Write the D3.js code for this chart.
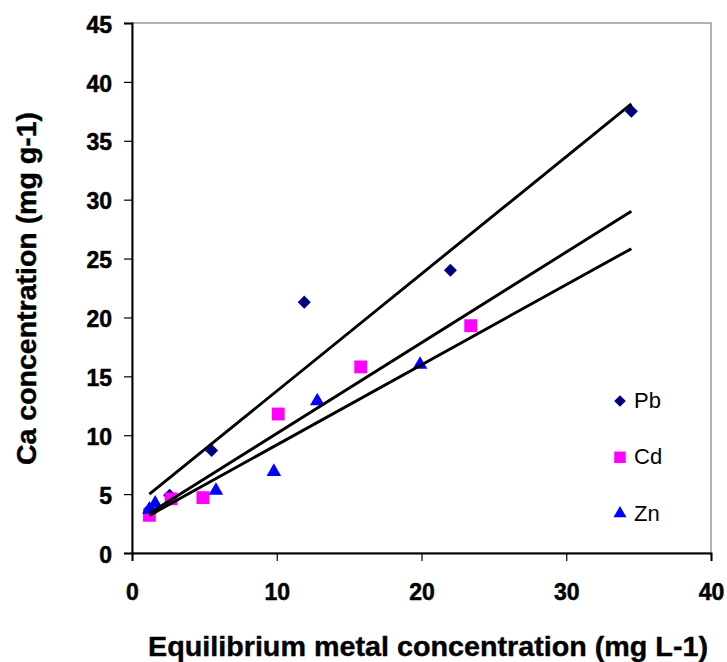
<!DOCTYPE html>
<html lang="en">
<head>
<meta charset="UTF-8">
<script src="https://d3js.org/d3.v7.min.js"></script>
<title>Ca release vs equilibrium metal concentration</title>
<style>
  body { margin: 0; background: #fff; }
  text { font-family: "Liberation Sans", Arial, sans-serif; }
</style>
</head>
<body>
<div id="chart"></div>
<script>
// data
const pbX = [1.2, 2.6, 5.5, 11.9, 22.0, 34.5];
const pbY = [3.7, 4.9, 8.7, 21.3, 24.0, 37.5];
const cdX = [1.2, 2.7, 4.9, 10.1, 15.8, 23.4];
const cdY = [3.2, 4.6, 4.7, 11.8, 15.8, 19.3];
const znX = [1.2, 1.6, 5.8, 9.8, 12.8, 19.9];
const znY = [3.7, 4.2, 5.3, 6.9, 12.9, 16.0];
const seriesNames = ["Pb", "Cd", "Zn"];
const trendRange = [1.2, 34.5];
const xTicks = [0, 10, 20, 30, 40];
const yTicks = [0, 5, 10, 15, 20, 25, 30, 35, 40, 45];

const width = 727, height = 662;
const margin = {left: 132, right: 16, top: 23, bottom: 109};

const svg = d3.select("#chart").append("svg")
    .attr("width", width).attr("height", height);

const x = d3.scaleLinear().domain([0, 40]).range([margin.left, width - margin.right]);
const y = d3.scaleLinear().domain([0, 45]).range([height - margin.bottom, margin.top]);

// plot area frame
svg.append("rect")
    .attr("x", x(0)).attr("y", y(45))
    .attr("width", x(40) - x(0)).attr("height", y(0) - y(45))
    .attr("fill", "none").attr("stroke", "#666").attr("stroke-width", 1);

// axes
const xAxis = svg.append("g")
    .attr("transform", "translate(0," + y(0) + ")")
    .call(d3.axisBottom(x).tickValues(xTicks).tickSize(8).tickPadding(23));
const yAxis = svg.append("g")
    .attr("transform", "translate(" + x(0) + ",0)")
    .call(d3.axisLeft(y).tickValues(yTicks).tickSize(8).tickPadding(12));

[xAxis, yAxis].forEach(function (g) {
    g.select(".domain").attr("stroke", "#000").attr("stroke-width", 2);
    g.selectAll(".tick line").attr("stroke", "#000").attr("stroke-width", 1.2);
    g.selectAll(".tick text")
        .attr("font-family", "Liberation Sans, Arial, sans-serif")
        .attr("font-size", 23).attr("font-weight", "bold").attr("fill", "#000")
        .attr("stroke", "#000").attr("stroke-width", 0.5);
});
yAxis.selectAll(".tick text").attr("dy", "0.4em");

// axis titles
svg.append("text")
    .attr("x", 148).attr("y", 656)
    .attr("textLength", 560).attr("lengthAdjust", "spacingAndGlyphs")
    .attr("font-size", 28).attr("font-weight", "bold")
    .attr("stroke", "#000").attr("stroke-width", 0.4)
    .text("Equilibrium metal concentration (mg L-1)");

svg.append("text")
    .attr("transform", "translate(36,465) rotate(-90)")
    .attr("textLength", 353).attr("lengthAdjust", "spacingAndGlyphs")
    .attr("font-size", 28).attr("font-weight", "bold")
    .attr("stroke", "#000").attr("stroke-width", 0.4)
    .text("Ca concentration (mg g-1)");

// least squares trend line
function fit(xs, ys) {
    const mx = d3.mean(xs), my = d3.mean(ys);
    let sxy = 0, sxx = 0;
    xs.forEach(function (v, i) {
        sxy += (v - mx) * (ys[i] - my);
        sxx += (v - mx) * (v - mx);
    });
    const b = sxy / sxx;
    return {b: b, a: my - b * mx};
}

const series = [
    {name: seriesNames[0], xs: pbX, ys: pbY, color: "#000080", symbol: d3.symbolSquare, size: 85, rot: 45},
    {name: seriesNames[1], xs: cdX, ys: cdY, color: "#FF00FF", symbol: d3.symbolSquare, size: 165, rot: 0},
    {name: seriesNames[2], xs: znX, ys: znY, color: "#0000FF", symbol: d3.symbolTriangle, size: 92, rot: 0}
];

// markers
series.forEach(function (s) {
    const pts = s.xs.map(function (v, i) { return [v, s.ys[i]]; });
    svg.append("g").selectAll("path")
        .data(pts)
        .join("path")
        .attr("d", d3.symbol().type(s.symbol).size(s.size))
        .attr("transform", function (d) {
            return "translate(" + x(d[0]) + "," + y(d[1]) + ") rotate(" + s.rot + ")";
        })
        .attr("fill", s.color);
});

// trend lines on top
series.forEach(function (s) {
    const f = fit(s.xs, s.ys);
    svg.append("line")
        .attr("x1", x(trendRange[0])).attr("y1", y(f.a + f.b * trendRange[0]))
        .attr("x2", x(trendRange[1])).attr("y2", y(f.a + f.b * trendRange[1]))
        .attr("stroke", "#000").attr("stroke-width", 2.9);
});

// legend
const legend = svg.append("g").attr("transform", "translate(620,401)");
series.forEach(function (s, i) {
    const row = legend.append("g").attr("transform", "translate(0," + (i * 56.3) + ")");
    row.append("path")
        .attr("d", d3.symbol().type(s.symbol).size(s.size * 0.8))
        .attr("transform", "rotate(" + s.rot + ")")
        .attr("fill", s.color);
    row.append("text")
        .attr("x", 14).attr("y", 7)
        .attr("font-size", 22)
        .text(s.name);
});
</script>
</body>
</html>
